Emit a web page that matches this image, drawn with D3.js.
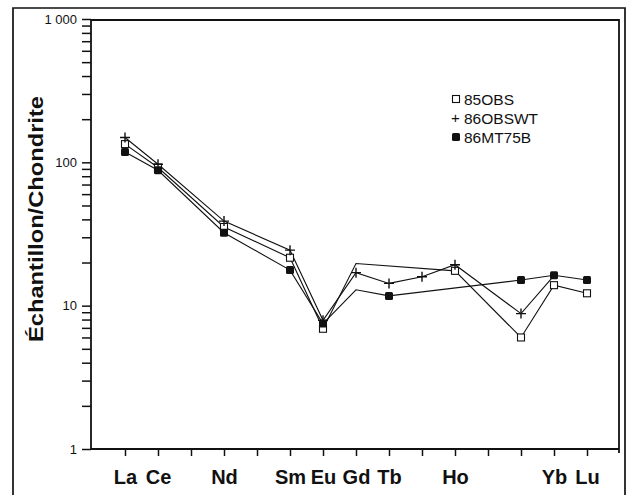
<!DOCTYPE html>
<html>
<head>
<meta charset="utf-8">
<script src="https://cdn.jsdelivr.net/npm/d3@7"></script>
<style>
  body { margin: 0; background: #fff; }
  text { font-family: "Liberation Sans", Arial, Helvetica, sans-serif; fill: #111; }
</style>
</head>
<body>
<script>
// REE, normalised to chondrite
const elements = ["La", "Ce", "Pr", "Nd", "Pm", "Sm", "Eu", "Gd", "Tb", "Dy", "Ho", "Er", "Tm", "Yb", "Lu"]
const labeledElements = ["La", "Ce", "Nd", "Sm", "Eu", "Gd", "Tb", "Ho", "Yb", "Lu"]
const majorTicks = [1, 10, 100, 1000]
const majorTickLabels = ["1", "10", "100", "1 000"]

const obs85Elements = ["La", "Ce", "Nd", "Sm", "Eu", "Gd", "Ho", "Tm", "Yb", "Lu"]
const obs85Values = [134, 92, 35.4, 21.6, 6.9, 19.7, 17.5, 6.0, 13.9, 12.2]

const obswt86Elements = ["La", "Ce", "Nd", "Sm", "Eu", "Gd", "Tb", "Dy", "Ho", "Tm", "Yb"]
const obswt86Values = [149, 97, 38.9, 24.4, 7.9, 17.0, 14.3, 15.9, 19.3, 8.8, 16.2]

const mt86Elements = ["La", "Ce", "Nd", "Sm", "Eu", "Gd", "Tb", "Tm", "Yb", "Lu"]
const mt86Values = [118, 88, 32.3, 17.7, 7.5, 12.9, 11.7, 15.1, 16.3, 15.1]

const series = [
  { name: "85OBS", els: obs85Elements, vals: obs85Values, marker: "open", noMarker: ["Gd"] },
  { name: "86OBSWT", els: obswt86Elements, vals: obswt86Values, marker: "plus", noMarker: ["Yb"] },
  { name: "86MT75B", els: mt86Elements, vals: mt86Values, marker: "filled", noMarker: ["Gd"] }
]

const W = 632, H = 495
const plotL = 91, plotR = 619, plotT = 20, plotB = 449

const svg = d3.select("body").append("svg").attr("width", W).attr("height", H)
svg.append("rect").attr("width", W).attr("height", H).attr("fill", "#fff")

// outer frame
svg.append("path")
  .attr("d", `M13,${H + 2} L13,8 L625,8 L625,${H + 2}`)
  .attr("fill", "none").attr("stroke", "#111").attr("stroke-width", 1.7)

const x = d3.scalePoint().domain(elements).range([125, 587])
const y = d3.scaleLog().domain([1, 1000]).range([plotB, 19])

// plot box
svg.append("path")
  .attr("d", `M${plotL},${plotB} L${plotL},${plotT} L${plotR},${plotT} L${plotR},${plotB + 4}`)
  .attr("fill", "none").attr("stroke", "#111").attr("stroke-width", 1.8)
svg.append("line")
  .attr("x1", plotL).attr("x2", plotR).attr("y1", plotB).attr("y2", plotB)
  .attr("stroke", "#111").attr("stroke-width", 1.8)

// y axis
const yTickValues = []
for (let d = 1; d < 1000; d *= 10) for (let k = 1; k < 10; k++) yTickValues.push(d * k)
yTickValues.push(1000)
const yAxis = svg.append("g")
  .attr("transform", `translate(${plotL},0)`)
  .call(d3.axisLeft(y)
    .tickValues(yTickValues)
    .tickSize(9)
    .tickPadding(5)
    .tickFormat(d => {
      const i = majorTicks.indexOf(d)
      return i >= 0 ? majorTickLabels[i] : ""
    }))
yAxis.select(".domain").remove()
yAxis.selectAll(".tick line").attr("stroke", "#111").attr("stroke-width", 1.5)
yAxis.selectAll(".tick text").style("font-size", "13px").attr("fill", "#111")

// x axis
const xAxis = svg.append("g")
  .attr("transform", `translate(0,${plotB})`)
  .call(d3.axisBottom(x)
    .tickSize(7)
    .tickPadding(14)
    .tickFormat(d => labeledElements.includes(d) ? d : ""))
xAxis.select(".domain").remove()
xAxis.selectAll(".tick line").attr("stroke", "#111").attr("stroke-width", 1.5)
xAxis.selectAll(".tick text").style("font-size", "20px").style("font-weight", "bold").attr("fill", "#111")

// y label
svg.append("text")
  .attr("transform", "translate(43,219) rotate(-90)")
  .attr("text-anchor", "middle")
  .attr("textLength", 246).attr("lengthAdjust", "spacingAndGlyphs")
  .style("font-size", "21px").style("font-weight", "bold")
  .text("Échantillon/Chondrite")

// lines
const line = d3.line().x(d => x(d[0])).y(d => y(d[1]))
series.forEach(s => {
  const pts = s.els.map((e, i) => [e, s.vals[i]])
  svg.append("path").datum(pts)
    .attr("d", line)
    .attr("fill", "none").attr("stroke", "#111").attr("stroke-width", 1.1)
})

function drawMarker(g, type, cx, cy) {
  if (type === "open") {
    g.append("rect").attr("x", cx - 3.5).attr("y", cy - 3.5).attr("width", 7).attr("height", 7)
      .attr("fill", "#fff").attr("stroke", "#111").attr("stroke-width", 1.1)
  } else if (type === "filled") {
    g.append("rect").attr("x", cx - 4).attr("y", cy - 4).attr("width", 8).attr("height", 8).attr("rx", 1.5)
      .attr("fill", "#111")
  } else {
    g.append("path").attr("d", `M${cx - 5},${cy} H${cx + 5} M${cx},${cy - 5} V${cy + 5}`)
      .attr("stroke", "#111").attr("stroke-width", 1.4)
  }
}

const markers = svg.append("g")
series.forEach(s => {
  s.els.forEach((e, i) => {
    if (s.noMarker.includes(e)) return
    drawMarker(markers, s.marker, x(e), y(s.vals[i]))
  })
})

// legend
const legend = svg.append("g")
series.forEach((s, i) => {
  const ly = 99 + i * 19
  if (s.marker === "open") drawMarker(legend, "open", 456, ly)
  else if (s.marker === "filled") drawMarker(legend, "filled", 456, ly)
  else legend.append("text").attr("x", 451).attr("y", ly + 5).style("font-size", "15px").text("+")
  legend.append("text").attr("x", 464).attr("y", ly + 5.5).style("font-size", "15.5px").text(s.name)
})
</script>
</body>
</html>
